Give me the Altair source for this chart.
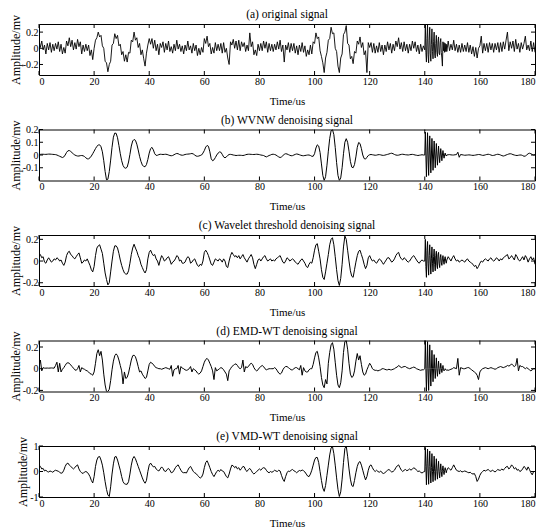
import altair as alt
import numpy as np
import pandas as pd

# ---------------- sampling grid (time, us) ----------------
T_PRE = np.arange(0, 140, 0.5)                      # 280 points
T_BURST = np.round(np.arange(140, 148, 0.2), 1)     # 40 points
T_POST = np.arange(148, 180.01, 0.5)                # 65 points
TIME = np.concatenate([T_PRE, T_BURST, T_POST])

X_TICKS = [0, 20, 40, 60, 80, 100, 120, 140, 160, 180]

# ---------------- (a) original signal ----------------
A_PRE = [
    0.10, 0.01, 0.09, -0.02, 0.04, -0.07, 0.06, -0.02, 0.07, -0.05,
    0.05, -0.03, 0.06, -0.01, 0.08, -0.04, 0.05, -0.07, 0.01, -0.06,
    0.09, 0.03, 0.13, 0.02, 0.10, -0.02, 0.07, -0.01, 0.11, 0.02,
    0.08, -0.07, 0.04, -0.04, 0.05, -0.03, 0.04, -0.09, -0.02, -0.14,
    0.00, 0.10, 0.13, 0.20, 0.14, 0.16, 0.03, 0.00, -0.16, -0.18,
    -0.29, -0.20, -0.16, 0.04, 0.06, 0.18, 0.12, 0.16, 0.03, 0.05,
    -0.08, -0.04, -0.16, -0.08, -0.17, -0.05, -0.06, 0.10, 0.08, 0.20,
    0.10, 0.13, 0.01, 0.06, -0.08, -0.02, -0.13, -0.22, -0.06, 0.04,
    0.12, 0.05, 0.12, 0.00, 0.10, -0.03, 0.05, -0.08, 0.06, 0.01,
    0.08, -0.05, 0.06, -0.02, 0.09, -0.04, 0.02, -0.06, 0.05, -0.03,
    0.10, -0.01, 0.05, -0.04, 0.03, -0.07, 0.04, -0.03, 0.09, -0.02,
    0.03, -0.06, 0.06, -0.03, 0.04, -0.09, 0.00, -0.08, 0.01, -0.05,
    0.12, 0.06, 0.15, 0.02, 0.06, -0.07, 0.01, -0.06, 0.07, -0.03,
    0.05, -0.03, 0.06, -0.06, 0.07, -0.05, 0.00, -0.12, -0.20, 0.08,
    0.04, 0.11, 0.00, 0.09, -0.02, 0.10, -0.03, 0.08, 0.02, 0.07,
    -0.04, 0.04, -0.03, 0.19, 0.02, 0.08, -0.08, -0.02, -0.09, 0.05,
    -0.03, 0.06, -0.03, 0.09, 0.00, 0.08, -0.05, 0.06, -0.03, 0.05,
    -0.04, 0.05, -0.02, 0.08, -0.01, 0.10, -0.04, 0.04, -0.17, 0.04,
    -0.02, 0.07, -0.05, 0.06, -0.03, 0.06, -0.06, 0.03, -0.08, 0.04,
    -0.04, 0.07, -0.05, 0.03, -0.10, -0.02, -0.08, 0.04, -0.07, 0.08,
    0.06, 0.19, 0.12, 0.14, -0.03, -0.10, -0.18, -0.30, -0.12, -0.05,
    0.10, 0.12, 0.26, 0.18, 0.19, 0.00, -0.04, -0.22, -0.30, -0.12,
    -0.07, 0.17, 0.20, 0.28, 0.06, 0.04, -0.13, -0.10, -0.19, -0.04,
    -0.06, 0.09, 0.05, 0.14, 0.01, 0.07, -0.08, -0.03, -0.30, 0.07,
    0.01, 0.07, -0.05, 0.06, -0.06, 0.03, -0.05, 0.07, -0.04, 0.04,
    -0.08, 0.04, -0.04, 0.08, -0.02, 0.06, -0.06, 0.05, -0.03, 0.09,
    0.02, 0.13, -0.01, 0.07, -0.04, 0.08, -0.03, 0.05, -0.06, 0.05,
    -0.03, 0.09, 0.00, 0.08, -0.04, 0.04, -0.07, 0.05, -0.04, 0.03,
]
A_BURST = [
    -0.02, 0.30, -0.05, -0.17, 0.12, 0.29, -0.08, -0.18, 0.10, 0.26,
    -0.06, -0.16, 0.05, 0.24, -0.04, -0.13, 0.08, 0.20, -0.07, -0.12,
    0.06, 0.16, -0.05, -0.10, 0.09, 0.14, -0.06, -0.08, 0.07, 0.12,
    -0.05, -0.12, -0.22, 0.08, -0.03, 0.07, -0.05, 0.06, -0.04, 0.05,
]
A_POST = [
    -0.04, 0.09, -0.03, 0.05, -0.02, 0.10, -0.03, 0.05, -0.05, 0.04,
    -0.05, 0.06, -0.04, 0.04, -0.04, 0.07, -0.05, 0.04, -0.07, 0.02,
    -0.10, 0.01, -0.12, 0.00, 0.03, 0.15, -0.06, 0.06, -0.03, 0.06,
    -0.05, 0.07, -0.02, 0.06, -0.05, 0.06, -0.02, 0.07, -0.05, 0.07,
    -0.04, 0.08, -0.01, 0.10, 0.20, -0.03, 0.08, 0.00, 0.09, -0.04,
    0.11, -0.01, 0.06, -0.05, 0.07, -0.01, 0.06, 0.15, -0.02, 0.04,
    -0.03, 0.09, -0.04, 0.07, -0.05,
]

# ---------------- (b) WVNW denoising signal ----------------
B_PRE = [
    0.005, 0.005, 0.006, 0.006, 0.005, 0.005, 0.006, 0.007, 0.007, 0.006,
    0.005, 0.004, 0.003, 0.000, -0.005, -0.010, -0.015, -0.020, -0.015, 0.000,
    0.020, 0.033, 0.035, 0.028, 0.018, 0.008, 0.000, -0.005, -0.008, -0.008,
    -0.005, -0.004, -0.006, -0.012, -0.022, -0.030, -0.030, -0.022, -0.008, 0.010,
    0.030, 0.050, 0.068, 0.078, 0.080, 0.065, 0.025, -0.045, -0.130, -0.195,
    -0.190, -0.130, -0.040, 0.060, 0.140, 0.172, 0.170, 0.135, 0.075, 0.010,
    -0.045, -0.082, -0.100, -0.104, -0.095, -0.055, 0.005, 0.070, 0.110, 0.122,
    0.115, 0.085, 0.040, -0.010, -0.050, -0.078, -0.090, -0.092, -0.075, -0.035,
    0.015, 0.050, 0.060, 0.040, 0.010, -0.003, -0.002, 0.003, 0.006, 0.005,
    0.004, 0.005, 0.006, 0.004, 0.000, -0.004, -0.006, -0.004, 0.002, 0.008,
    0.012, 0.010, 0.004, 0.000, -0.002, 0.000, 0.004, 0.006, 0.007, 0.008,
    0.010, 0.012, 0.008, 0.000, -0.008, -0.010, -0.008, -0.004, 0.000, 0.015,
    0.035, 0.062, 0.075, 0.068, 0.025, -0.030, -0.045, -0.038, -0.020, 0.000,
    0.015, 0.024, 0.022, 0.005, -0.015, -0.022, -0.015, -0.003, 0.004, 0.005,
    0.003, 0.000, -0.002, -0.004, -0.003, -0.002, -0.002, -0.003, -0.004, -0.002,
    0.002, 0.005, 0.006, 0.006, 0.005, 0.004, 0.004, 0.005, 0.006, 0.005,
    0.003, 0.000, -0.002, -0.004, -0.010, -0.015, -0.010, -0.004, 0.000, 0.005,
    0.006, 0.004, 0.000, -0.008, -0.015, -0.020, -0.015, -0.005, 0.005, 0.010,
    0.008, 0.003, -0.002, -0.006, -0.005, 0.000, 0.005, 0.008, 0.006, 0.002,
    -0.002, -0.005, -0.006, -0.004, -0.002, 0.000, 0.000, -0.004, -0.010, -0.010,
    0.010, 0.055, 0.080, 0.070, 0.020, -0.070, -0.160, -0.200, -0.170, -0.080,
    0.030, 0.130, 0.190, 0.200, 0.160, 0.060, -0.060, -0.160, -0.200, -0.180,
    -0.100, 0.010, 0.100, 0.128, 0.100, 0.030, -0.050, -0.095, -0.100, -0.075,
    -0.015, 0.060, 0.098, 0.090, 0.050, 0.000, -0.028, -0.032, -0.018, -0.004,
    0.002, 0.004, 0.002, 0.000, -0.002, -0.001, 0.002, 0.003, 0.001, -0.002,
    -0.003, -0.001, 0.002, 0.005, 0.008, 0.012, 0.014, 0.010, 0.004, 0.000,
    -0.002, -0.001, 0.002, 0.005, 0.006, 0.004, 0.002, 0.001, 0.000, 0.002,
    0.004, 0.005, 0.003, 0.000, -0.002, -0.004, -0.002, 0.000, 0.002, 0.000,
]
B_BURST = [
    0.000, 0.180, 0.000, -0.170, 0.000, 0.175, 0.000, -0.160, 0.000, 0.150,
    0.000, -0.140, 0.000, 0.130, 0.000, -0.120, 0.000, 0.110, 0.000, -0.100,
    0.000, 0.090, 0.000, -0.080, 0.000, 0.070, 0.000, -0.060, 0.000, 0.050,
    0.000, -0.045, 0.000, 0.035, 0.000, -0.025, 0.000, 0.015, 0.000, -0.008,
]
B_POST = [
    0.000, 0.002, 0.003, 0.001, 0.000, 0.000, 0.002, 0.003, 0.022, -0.018,
    0.004, 0.002, 0.000, -0.002, -0.001, 0.000, 0.001, 0.000, -0.002, -0.003,
    -0.002, 0.000, 0.002, 0.004, 0.003, 0.000, -0.003, -0.002, 0.001, 0.004,
    0.006, 0.004, 0.000, -0.004, -0.003, 0.000, 0.004, 0.006, 0.004, 0.000,
    -0.005, -0.008, -0.005, 0.000, 0.004, 0.008, 0.010, 0.008, 0.003, 0.000,
    -0.003, -0.004, -0.002, 0.000, 0.000, -0.004, -0.010, -0.008, 0.000, 0.010,
    0.014, 0.010, 0.004, 0.000, 0.002,
]

# ---------------- (c) Wavelet threshold denoising signal ----------------
C_PRE = [
    0.05, 0.06, 0.03, 0.04, -0.01, -0.02, 0.01, 0.03, 0.01, -0.01,
    0.00, 0.02, 0.01, 0.03, 0.02, 0.00, 0.01, -0.02, -0.04, -0.01,
    0.05, 0.08, 0.09, 0.06, 0.05, 0.03, 0.02, 0.04, 0.06, 0.075,
    0.03, -0.02, -0.01, 0.01, 0.00, 0.02, -0.01, -0.04, -0.08, -0.10,
    -0.05, 0.05, 0.12, 0.14, 0.15, 0.11, 0.07, -0.02, -0.11, -0.17,
    -0.22, -0.20, -0.10, 0.00, 0.09, 0.14, 0.14, 0.12, 0.07, 0.01,
    -0.04, -0.08, -0.11, -0.12, -0.12, -0.09, -0.02, 0.06, 0.12, 0.155,
    0.12, 0.09, 0.05, 0.02, -0.03, -0.06, -0.09, -0.11, -0.08, 0.02,
    0.08, 0.10, 0.07, 0.05, 0.06, 0.02, 0.00, -0.04, 0.01, 0.05,
    0.03, 0.00, 0.01, 0.03, 0.04, 0.01, -0.03, -0.01, 0.00, 0.02,
    0.05, 0.04, 0.00, 0.01, -0.02, -0.02, -0.01, 0.02, 0.04, 0.03,
    -0.02, -0.01, 0.01, 0.02, -0.01, -0.04, -0.05, -0.03, -0.04, 0.00,
    0.08, 0.10, 0.08, 0.05, 0.01, -0.03, -0.04, -0.01, 0.02, 0.01,
    0.00, 0.02, 0.01, -0.01, 0.02, 0.00, -0.05, -0.06, 0.00, 0.05,
    0.08, 0.06, 0.04, 0.05, 0.03, 0.05, 0.02, 0.04, 0.06, 0.03,
    0.01, -0.01, 0.02, 0.04, 0.06, 0.03, -0.03, -0.07, -0.03, 0.01,
    0.02, 0.00, 0.02, 0.04, 0.05, 0.02, 0.00, 0.01, 0.02, 0.00,
    0.01, 0.00, 0.02, 0.03, 0.04, 0.05, 0.02, -0.01, -0.02, 0.00,
    0.03, 0.02, 0.00, 0.01, 0.02, 0.01, -0.01, -0.02, -0.03, -0.01,
    0.01, 0.02, 0.00, -0.02, -0.05, -0.06, -0.03, -0.01, -0.02, 0.03,
    0.10, 0.15, 0.16, 0.09, 0.02, -0.08, -0.15, -0.17, -0.10, -0.02,
    0.06, 0.15, 0.20, 0.215, 0.15, 0.04, -0.08, -0.18, -0.225, -0.16,
    -0.03, 0.13, 0.23, 0.20, 0.10, 0.00, -0.09, -0.14, -0.15, -0.08,
    -0.01, 0.05, 0.09, 0.10, 0.06, 0.02, -0.03, -0.07, -0.04, 0.03,
    0.05, 0.02, 0.00, 0.01, -0.01, -0.02, 0.00, 0.02, 0.01, -0.01,
    -0.03, -0.01, 0.01, 0.03, 0.03, 0.01, -0.01, 0.00, 0.02, 0.05,
    0.07, 0.08, 0.04, 0.02, 0.01, 0.03, 0.02, 0.00, -0.01, 0.00,
    0.02, 0.04, 0.05, 0.03, 0.01, -0.01, -0.02, 0.00, 0.01, 0.00,
]
C_BURST = [
    0.00, 0.20, -0.05, -0.15, 0.10, 0.18, -0.02, -0.13, 0.05, 0.15,
    0.00, -0.12, 0.02, 0.13, -0.02, -0.10, 0.04, 0.11, -0.03, -0.09,
    0.05, 0.09, -0.04, -0.07, 0.06, 0.08, -0.02, -0.06, 0.03, 0.06,
    -0.01, -0.04, 0.02, 0.05, 0.00, -0.03, 0.02, 0.04, 0.00, -0.02,
]
C_POST = [
    0.01, 0.04, 0.02, 0.00, 0.03, 0.05, 0.02, 0.00, 0.01, -0.01,
    0.00, 0.01, 0.00, -0.01, 0.01, 0.02, 0.00, -0.01, -0.02, -0.03,
    -0.05, -0.04, -0.07, -0.05, -0.02, 0.00, -0.01, 0.01, 0.02, 0.01,
    0.00, 0.02, 0.03, 0.01, 0.00, 0.01, 0.03, 0.02, 0.00, 0.02,
    0.01, 0.03, 0.04, 0.05, 0.06, 0.02, 0.03, 0.05, 0.03, 0.01,
    0.06, 0.04, 0.01, 0.00, 0.02, 0.04, 0.01, 0.05, 0.03, -0.01,
    0.02, 0.04, 0.01, 0.03, -0.03,
]

# ---------------- (d) EMD-WT denoising signal ----------------
D_PRE = [
    0.02, 0.08, -0.02, 0.01, 0.005, 0.005, 0.006, 0.005, 0.006, 0.007,
    0.006, 0.005, 0.03, 0.06, -0.03, 0.05, -0.03, -0.005, 0.01, 0.03,
    0.05, 0.055, 0.05, 0.035, 0.02, 0.005, -0.01, -0.015, 0.00, 0.03,
    -0.03, 0.01, 0.00, -0.005, -0.015, -0.02, -0.03, -0.045, -0.05, -0.06,
    -0.03, 0.05, 0.14, 0.175, 0.12, 0.16, 0.08, -0.05, -0.15, -0.21,
    -0.21, -0.19, -0.11, -0.01, 0.07, 0.12, 0.137, 0.12, 0.08, 0.03,
    -0.02, -0.14, -0.03, -0.09, -0.08, -0.04, 0.02, 0.08, 0.12, 0.125,
    0.11, 0.07, 0.02, -0.03, -0.02, -0.05, -0.07, -0.09, -0.08, -0.02,
    0.04, 0.06, 0.05, 0.04, 0.02, 0.01, 0.005, 0.00, 0.00, -0.005,
    0.00, 0.005, 0.01, 0.005, 0.00, -0.005, 0.03, -0.07, -0.01, 0.00,
    0.00, 0.03, -0.05, 0.02, 0.005, 0.00, -0.01, -0.015, -0.01, 0.00,
    0.02, -0.03, 0.00, -0.01, -0.02, -0.04, -0.05, -0.04, -0.02, 0.02,
    0.06, 0.085, 0.095, 0.08, 0.05, 0.02, -0.02, -0.10, 0.01, -0.02,
    -0.01, 0.00, 0.01, 0.005, -0.01, -0.03, -0.05, -0.11, -0.02, 0.00,
    0.02, 0.03, 0.04, 0.045, 0.03, 0.01, 0.00, 0.01, 0.08, -0.03,
    0.02, 0.01, 0.02, 0.04, 0.05, 0.04, 0.01, -0.01, -0.02, -0.01,
    0.01, 0.02, 0.03, 0.02, 0.00, -0.01, -0.005, 0.00, 0.00, 0.00,
    0.00, 0.01, 0.00, -0.02, -0.04, -0.05, -0.04, -0.01, 0.01, 0.02,
    0.02, 0.01, 0.00, -0.01, -0.01, 0.00, 0.01, 0.01, 0.00, -0.01,
    0.03, -0.06, 0.01, -0.02, -0.03, -0.03, -0.01, 0.00, 0.00, 0.04,
    0.10, 0.15, 0.16, 0.10, 0.02, -0.08, -0.15, -0.175, -0.10, -0.14,
    0.05, 0.15, 0.22, 0.24, 0.18, 0.06, -0.06, -0.15, -0.175, -0.13,
    -0.02, 0.15, 0.25, 0.26, 0.18, 0.05, -0.05, -0.08, -0.07, -0.02,
    0.07, 0.14, 0.08, 0.12, 0.04, -0.03, -0.06, -0.05, -0.01, 0.02,
    0.05, 0.03, 0.00, -0.01, -0.015, -0.015, -0.02, -0.015, -0.01, 0.00,
    0.00, -0.005, -0.01, -0.01, -0.005, -0.01, -0.01, -0.005, 0.00, 0.01,
    0.015, 0.03, 0.02, 0.01, 0.015, 0.02, 0.02, 0.01, 0.005, 0.00,
    0.005, 0.01, 0.015, 0.01, 0.00, -0.005, -0.01, -0.015, -0.01, -0.01,
]
D_BURST = [
    0.00, 0.26, 0.00, -0.21, 0.00, 0.25, 0.00, -0.20, 0.00, 0.22,
    0.00, -0.16, 0.00, 0.17, 0.00, -0.12, 0.00, 0.13, 0.00, -0.09,
    0.00, 0.10, 0.00, -0.07, 0.00, 0.07, 0.00, -0.05, 0.00, 0.05,
    0.00, -0.035, 0.00, 0.03, -0.01, -0.02, -0.01, 0.00, -0.01, -0.015,
]
D_POST = [
    -0.01, -0.015, -0.01, -0.005, 0.00, 0.01, 0.005, 0.00, 0.095, -0.06,
    0.01, 0.005, 0.00, 0.00, 0.005, 0.01, 0.01, 0.00, -0.01, -0.02,
    -0.03, -0.04, -0.06, -0.10, -0.03, -0.01, 0.00, 0.005, 0.01, 0.005,
    0.00, 0.005, 0.01, 0.005, 0.00, -0.005, 0.00, 0.01, 0.015, 0.02,
    0.015, 0.01, 0.015, 0.02, 0.03, 0.025, 0.03, 0.045, 0.03, 0.02,
    0.03, 0.095, -0.02, 0.03, 0.02, 0.02, 0.01, 0.00, 0.01, 0.00,
    -0.01, -0.02, -0.01, 0.00, 0.00,
]

# ---------------- (e) VMD-WT denoising signal ----------------
E_PRE = [
    0.15, 0.20, 0.10, 0.12, 0.02, 0.05, 0.00, -0.02, 0.02, 0.00,
    -0.03, 0.02, 0.05, 0.03, 0.01, -0.03, -0.07, -0.05, 0.05, 0.20,
    0.30, 0.33, 0.25, 0.20, 0.15, 0.10, 0.15, 0.22, 0.26, 0.10,
    0.00, -0.05, -0.08, -0.02, 0.00, -0.03, -0.10, -0.20, -0.35, -0.45,
    -0.20, 0.20, 0.45, 0.57, 0.59, 0.45, 0.25, -0.05, -0.40, -0.70,
    -0.92, -0.98, -0.60, -0.10, 0.30, 0.57, 0.59, 0.45, 0.25, 0.05,
    -0.20, -0.40, -0.48, -0.50, -0.50, -0.40, -0.10, 0.25, 0.50, 0.59,
    0.50, 0.35, 0.20, 0.05, -0.10, -0.25, -0.38, -0.46, -0.35, 0.00,
    0.25, 0.33, 0.25, 0.18, 0.20, 0.10, 0.05, 0.02, 0.10, 0.18,
    0.12, 0.02, 0.00, 0.08, 0.12, 0.05, -0.05, -0.03, 0.05, 0.15,
    0.22, 0.26, 0.15, 0.05, -0.03, -0.05, -0.04, -0.06, 0.05, 0.15,
    0.20, 0.10, 0.00, -0.05, -0.08, -0.15, -0.20, -0.26, -0.22, -0.10,
    0.15, 0.35, 0.42, 0.30, 0.15, 0.00, -0.12, -0.20, -0.10, 0.00,
    0.05, 0.00, 0.08, 0.02, 0.00, -0.10, -0.20, -0.25, -0.10, 0.10,
    0.25, 0.22, 0.15, 0.20, 0.10, 0.15, 0.05, 0.12, 0.20, 0.18,
    0.05, 0.00, 0.08, 0.12, 0.05, -0.05, -0.10, -0.05, 0.00, 0.05,
    0.10, 0.05, 0.12, 0.15, 0.13, 0.05, -0.02, -0.05, 0.00, -0.03,
    0.00, 0.05, 0.02, 0.00, 0.05, 0.02, -0.15, -0.30, -0.39, -0.20,
    -0.05, 0.02, 0.00, 0.05, 0.08, 0.03, 0.00, -0.05, 0.00, 0.04,
    0.02, 0.06, 0.03, -0.02, -0.10, -0.18, -0.20, -0.10, 0.05, 0.25,
    0.45, 0.55, 0.55, 0.35, 0.00, -0.35, -0.65, -0.78, -0.55, -0.15,
    0.25, 0.65, 0.92, 0.98, 0.70, 0.25, -0.25, -0.70, -0.98, -0.80,
    -0.30, 0.35, 0.90, 1.00, 0.60, 0.10, -0.30, -0.55, -0.59, -0.35,
    -0.05, 0.20, 0.35, 0.39, 0.25, 0.05, -0.15, -0.33, -0.20, 0.05,
    0.22, 0.26, 0.15, 0.05, 0.00, 0.05, 0.00, -0.03, 0.02, -0.05,
    -0.08, -0.05, 0.00, 0.05, 0.08, 0.03, -0.02, 0.00, 0.05, 0.15,
    0.22, 0.26, 0.15, 0.05, 0.00, 0.05, 0.08, 0.03, 0.06, 0.10,
    0.05, 0.10, 0.14, 0.12, 0.05, 0.00, 0.02, -0.03, -0.06, -0.02,
]
E_BURST = [
    0.00, 0.94, 0.20, -0.52, 0.30, 0.88, 0.10, -0.50, 0.20, 0.80,
    0.05, -0.45, 0.15, 0.70, 0.00, -0.40, 0.10, 0.60, 0.00, -0.35,
    0.10, 0.50, 0.00, -0.30, 0.10, 0.40, 0.00, -0.25, 0.05, 0.30,
    0.00, -0.20, 0.05, 0.22, 0.00, -0.12, 0.05, 0.15, 0.05, -0.05,
]
E_POST = [
    0.05, 0.15, 0.10, 0.05, 0.15, 0.26, 0.15, 0.05, 0.02, 0.00,
    0.03, -0.02, 0.00, 0.02, 0.00, -0.03, -0.05, -0.03, -0.08, -0.10,
    -0.08, -0.20, -0.39, -0.30, -0.15, -0.05, 0.00, 0.05, 0.02, 0.05,
    0.08, 0.03, 0.00, 0.05, 0.02, -0.02, 0.03, 0.08, 0.05, 0.05,
    0.10, 0.05, 0.12, 0.18, 0.20, 0.10, 0.15, 0.26, 0.20, 0.10,
    0.15, 0.05, 0.08, 0.00, 0.03, 0.10, 0.20, 0.15, 0.05, 0.18,
    0.08, -0.05, -0.13, 0.00, 0.00,
]

TITLES = [
    "(a) original signal",
    "(b) WVNW denoising signal",
    "(c) Wavelet threshold denoising signal",
    "(d) EMD-WT denoising signal",
    "(e) VMD-WT denoising signal",
]
SERIES = [
    A_PRE + A_BURST + A_POST,
    B_PRE + B_BURST + B_POST,
    C_PRE + C_BURST + C_POST,
    D_PRE + D_BURST + D_POST,
    E_PRE + E_BURST + E_POST,
]
Y_DOMAINS = [[-0.33, 0.30], [-0.2, 0.2], [-0.23, 0.24], [-0.21, 0.26], [-1, 1]]
Y_TICKS = [[-0.2, 0, 0.2], [-0.1, 0, 0.1, 0.2], [-0.2, 0, 0.2], [-0.2, 0, 0.2], [-1, 0, 1]]
STROKES = [0.9, 1.0, 1.0, 1.0, 1.0]

W, H = 496, 51
FONT = "Liberation Serif"
TICK_LEN = 4
TITLE_GAP = 9    # px between panel title centre and top of the plot frame
Y_LABEL_EXPR = "datum.value < 0 ? '-' + format(-datum.value, '~r') : format(datum.value, '~r')"


def panel(title, values, ydom, yticks, sw):
    df = pd.DataFrame({"t": TIME, "v": values})
    xs = alt.Scale(domain=[0, 180], nice=False, zero=False)
    ys = alt.Scale(domain=ydom, nice=False, zero=False)
    x_axis = alt.Axis(values=X_TICKS, format="d", title="Time/us", ticks=False, domain=False,
                      grid=False, labelPadding=1, titlePadding=9, titleFontSize=11)
    y_axis = alt.Axis(values=yticks, labelExpr=Y_LABEL_EXPR, title="Amplitude/mv", ticks=False,
                      domain=False, grid=False, labelPadding=1, titlePadding=0, titleFontSize=12)
    X = alt.X("t:Q", scale=xs, axis=x_axis)
    Y = alt.Y("v:Q", scale=ys, axis=y_axis)
    line = alt.Chart(df).mark_line(color="black", strokeWidth=sw, clip=True).encode(x=X, y=Y)
    xt = pd.DataFrame({"t": X_TICKS})
    yt = pd.DataFrame({"v": yticks})
    xb = alt.Chart(xt).mark_rule(color="black", strokeWidth=1).encode(
        x=X, y=alt.value(H), y2=alt.value(H - TICK_LEN))
    xtp = alt.Chart(xt).mark_rule(color="black", strokeWidth=1).encode(
        x=X, y=alt.value(0), y2=alt.value(TICK_LEN))
    yl = alt.Chart(yt).mark_rule(color="black", strokeWidth=1).encode(
        y=Y, x=alt.value(0), x2=alt.value(TICK_LEN))
    yr = alt.Chart(yt).mark_rule(color="black", strokeWidth=1).encode(
        y=Y, x=alt.value(W), x2=alt.value(W - TICK_LEN))
    ttl = alt.Chart(pd.DataFrame({"title": [title]})).mark_text(
        font=FONT, fontSize=11.5, color="black", align="center", baseline="middle"
    ).encode(text="title:N", x=alt.value(W / 2), y=alt.value(-TITLE_GAP))
    return alt.layer(line, xb, xtp, yl, yr, ttl).properties(width=W, height=H)


panels = [panel(TITLES[i], SERIES[i], Y_DOMAINS[i], Y_TICKS[i], STROKES[i]) for i in range(5)]

chart = alt.vconcat(*panels, spacing=54.5, bounds="flush").properties(
    padding={"left": 0, "top": 0, "right": 4, "bottom": 0},
    background="white",
).configure_view(
    stroke="black", strokeWidth=1
).configure_axis(
    labelFont=FONT, titleFont=FONT, labelFontSize=10,
    labelColor="black", titleColor="black", titleFontWeight="normal",
)

chart.save("out.html", embed_options={"renderer": "svg", "actions": False})
